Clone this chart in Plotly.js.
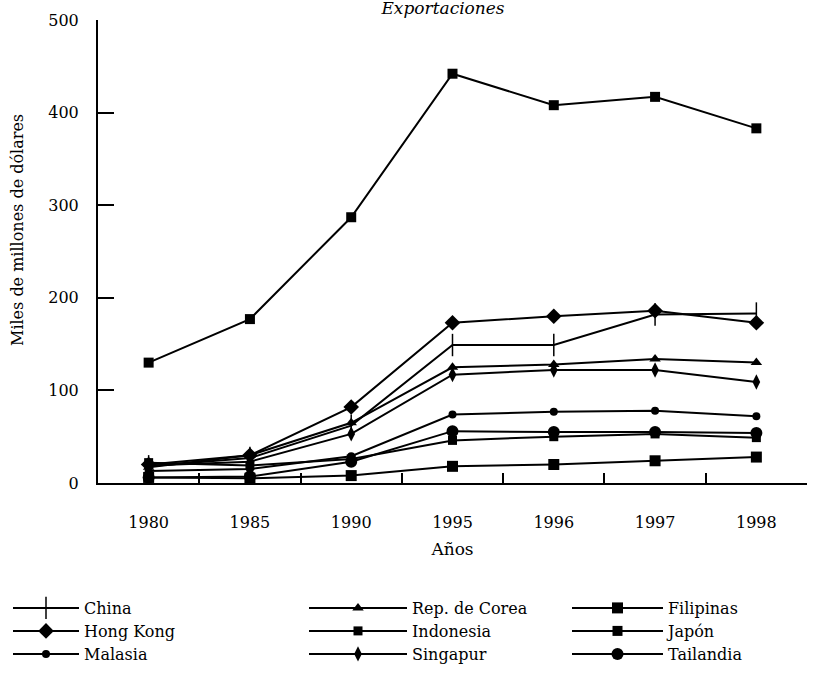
<!DOCTYPE html>
<html>
<head>
<meta charset="utf-8">
<script src="https://cdn.plot.ly/plotly-3.0.1.min.js"></script>
<style>html,body{margin:0;padding:0;background:#fff;}#chart{width:815px;height:691px;}</style>
</head>
<body>
<div id="chart"></div>
<script>
var years = ['1980','1985','1990','1995','1996','1997','1998'];
var yTicks = [0,100,200,300,400,500];

var china      = [18, 27, 62, 149, 149, 182, 183];
var corea      = [17, 30, 65, 125, 128, 134, 130];
var filipinas  = [6, 5, 8, 18, 20, 24, 28];
var hongKong   = [20, 30, 82, 173, 180, 186, 173];
var indonesia  = [22, 19, 26, 46, 50, 53, 49];
var japon      = [130, 177, 287, 442, 408, 417, 383];
var malasia    = [13, 15, 29, 74, 77, 78, 72];
var singapur   = [19, 23, 53, 117, 122, 122, 109];
var tailandia  = [6, 7, 23, 56, 55, 55, 54];

var names = ['China','Hong Kong','Malasia','Rep. de Corea','Indonesia','Singapur','Filipinas','Japón','Tailandia'];
var series = [china, hongKong, malasia, corea, indonesia, singapur, filipinas, japon, tailandia];
var symbols = ['line-ns','diamond','circle','triangle-up','square','diamond-tall','square','square','circle'];
var sizes = [16, 12, 8, 10, 9, 11, 11, 10, 12];

var fam = 'DejaVu Serif, Liberation Serif, Times New Roman, serif';
var font = {family: fam, color: '#000', size: 16};
var legFont = {family: fam, size: 16, color: '#000'};

// legend slot: column (0..2), row (0..2)
var colX = [8, 304, 567];
var colW = [66, 98, 91];
var rowY = [608, 631, 654];

var layout = {
  width: 815, height: 691,
  margin: {l: 98, r: 8, t: 20, b: 208, autoexpand: false},
  paper_bgcolor: '#fff', plot_bgcolor: '#fff',
  font: font,
  showlegend: true,
  title: {text: '<i>Exportaciones</i>', x: 443/815, xanchor: 'center', y: 1 - 8/691, yanchor: 'middle', yref: 'container',
          font: {family: fam, size: 17, color: '#000'}},
  xaxis: {
    type: 'category', range: [-0.5, 6.5],
    showgrid: false, zeroline: false,
    showline: true, linecolor: '#000', linewidth: 2,
    ticks: 'inside', tickson: 'boundaries', ticklen: 10, tickwidth: 2, tickcolor: '#000',
    ticklabelstandoff: 24, tickangle: 0,
    tickfont: font,
    title: {text: 'Años', font: {family: fam, size: 17, color: '#000'}, standoff: 12}
  },
  yaxis: {
    range: [0, 500], tickvals: yTicks, ticktext: yTicks.map(String),
    showgrid: false, zeroline: false,
    showline: true, linecolor: '#000', linewidth: 2,
    ticks: 'inside', ticklen: 16, tickwidth: 2, tickcolor: '#000',
    ticklabelstandoff: 14,
    tickfont: font
  },
  annotations: [{
    text: 'Miles de millones de dólares', textangle: -90,
    xref: 'paper', yref: 'paper', x: -81/709, y: (483 - 230) / 463,
    xanchor: 'center', yanchor: 'middle', showarrow: false,
    font: {family: fam, size: 16, color: '#000'}
  }]
};

var traces = series.map(function(s, i){
  var col = Math.floor(i / 3), row = i % 3;
  var key = i === 0 ? 'legend' : 'legend' + (i + 1);
  layout[key] = {
    orientation: 'v', x: colX[col] / 815, xref: 'container', xanchor: 'left',
    y: 1 - rowY[row] / 691, yref: 'container', yanchor: 'middle',
    itemwidth: colW[col], font: legFont, bgcolor: 'rgba(0,0,0,0)', borderwidth: 0
  };
  return {
    type: 'scatter', mode: 'lines+markers',
    x: years, y: s, name: names[i], legend: key,
    line: {color: '#000', width: 2},
    marker: {symbol: symbols[i], size: sizes[i], color: '#000',
             line: {color: '#000', width: symbols[i] === 'line-ns' ? 1.5 : 0}}
  };
});

Plotly.newPlot('chart', traces, layout, {displayModeBar: false, staticPlot: true});
</script>
</body>
</html>
